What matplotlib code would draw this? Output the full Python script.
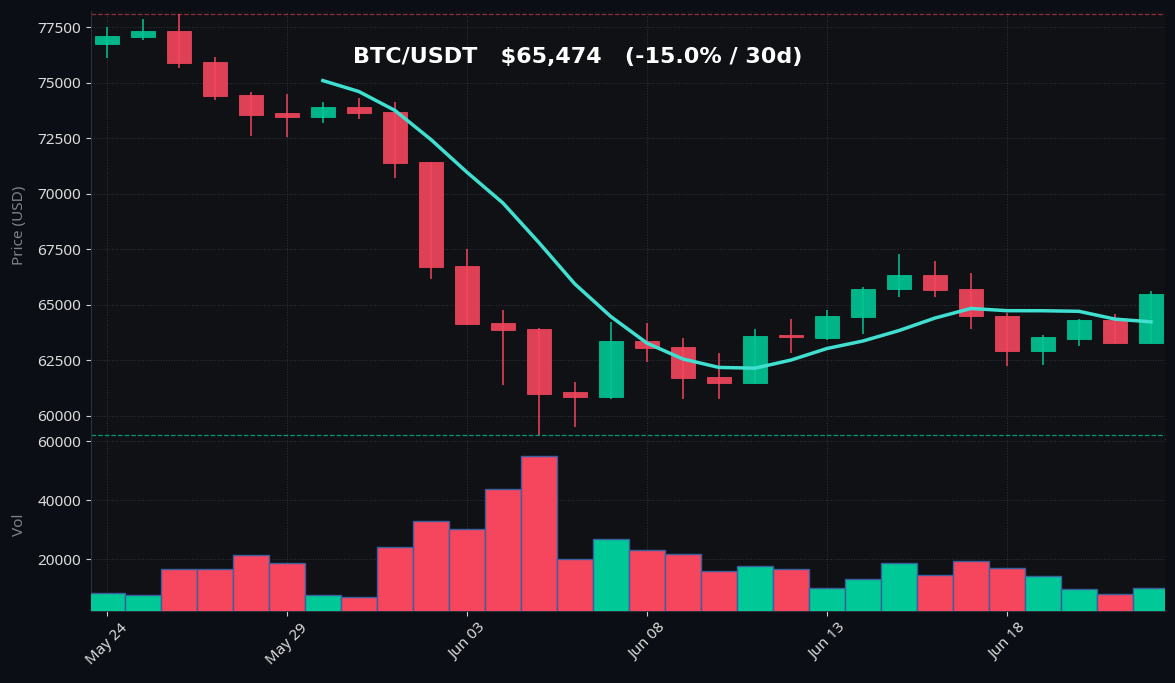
import matplotlib
matplotlib.use("Agg")
import matplotlib.pyplot as plt
import numpy as np
import pandas as pd

plt.rcParams['font.family'] = ['Noto Sans', 'DejaVu Sans']

# ---- data ----
dates = pd.date_range("2024-05-24", periods=30, freq="D")
opens = [76750, 77060, 77330, 75930, 74470, 73640, 73470, 73920, 73690, 71430,
         66770, 64180, 63900, 61070, 60850, 63370, 63100, 61740, 61470, 63640,
         63530, 64450, 65710, 66340, 65710, 64520, 62920, 63480, 64310, 63280]
highs = [77520, 77880, 78080, 76160, 74580, 74520, 74160, 74310, 74120, 71450,
         67520, 64760, 63950, 61520, 64220, 64180, 63520, 62840, 63920, 64370,
         64780, 65810, 67300, 66990, 66440, 64650, 63640, 64370, 64600, 65630]
lows = [76100, 76910, 75680, 74250, 72590, 72540, 73210, 73390, 70700, 66180,
        64100, 61410, 59140, 59520, 60750, 62420, 60780, 60780, 61450, 62850,
        63440, 63670, 65375, 65375, 63935, 62270, 62310, 63170, 63270, 63270]
closes = [77100, 77330, 75890, 74430, 73570, 73480, 73920, 73650, 71380, 66720,
          64130, 63860, 61000, 60850, 63370, 63050, 61700, 61470, 63620, 63560,
          64490, 65735, 66340, 65650, 64490, 62920, 63545, 64310, 63280, 65474]
volumes = [8370, 7690, 16710, 16710, 21250, 18540, 7690, 7010, 23960, 32780,
           30070, 43630, 54820, 19900, 26680, 22950, 21590, 16040, 17520, 16500,
           10070, 13120, 18540, 14470, 19220, 16850, 14130, 9730, 8030, 10070]
tick_idx = [0, 5, 10, 15, 20, 25]
title = "BTC/USDT   $65,474   (-15.0% / 30d)"

# ---- style ----
FIG_BG = "#0b0e14"
AX_BG = "#0f1115"
UP = "#00c896"
DOWN = "#f6465d"
GRID = "#3a3f4b"
TXT = "#dcdcdc"
LBL = "#7d828c"

df = pd.DataFrame({"open": opens, "high": highs, "low": lows,
                   "close": closes, "vol": volumes}, index=dates)
ma = df["close"].rolling(7).mean()
x = np.arange(len(df))
up = df["close"] >= df["open"]
cols = np.where(up, UP, DOWN)

fig = plt.figure(figsize=(11.75, 6.83), dpi=100, facecolor=FIG_BG)
L, R = 91 / 1175, 1165 / 1175
H = 683
ax = fig.add_axes([L, (H - 439) / H, R - L, (439 - 11) / H])
axv = fig.add_axes([L, (H - 611) / H, R - L, (611 - 439) / H], sharex=ax)

for a in (ax, axv):
    a.set_facecolor(AX_BG)
    for s in ("top", "right"):
        a.spines[s].set_visible(False)
    a.spines["left"].set_color("#2c303a")
    a.spines["bottom"].set_color("#2c303a")
    a.grid(True, color=GRID, linestyle=":", linewidth=0.7, alpha=0.75)
    a.set_axisbelow(True)
    a.tick_params(colors=TXT, labelsize=11, length=3.5, width=0.8)
    a.tick_params(axis="both", which="both", color="#cfcfcf")

# wicks
ax.vlines(x, df["low"], df["high"], colors=cols, linewidth=1.2, alpha=0.9, zorder=2)
# bodies
body_h = (df["close"] - df["open"]).abs()
body_b = np.minimum(df["close"], df["open"])
ax.bar(x, body_h, bottom=body_b, width=0.68, color=cols, edgecolor=cols,
       linewidth=0.6, alpha=0.9, zorder=3)
# moving average
ax.plot(x, ma.values, color="#40e0d0", linewidth=2.5, zorder=4)
# extreme lines
ax.axhline(df["high"].max(), color=DOWN, linestyle="--", linewidth=0.9, alpha=0.55, zorder=1.5)
ax.axhline(df["low"].min(), color=UP, linestyle="--", linewidth=0.9, alpha=0.75, zorder=1.5)

ax.set_ylim(df["low"].min() * 0.997, df["high"].max() * 1.002)
ax.set_yticks(np.arange(60000, 77501, 2500))
ax.set_ylabel("Price (USD)", color=LBL, fontsize=11)
ax.yaxis.set_label_coords(-0.06, 0.5)
ax.tick_params(axis="x", labelbottom=False, length=0)

# volume
axv.bar(x, df["vol"], width=1.0, color=cols, edgecolor="#3b5f9e", linewidth=1.0, zorder=3)
axv.set_ylim(2400, 60700)
axv.set_yticks([20000, 40000, 60000])
axv.set_ylabel("Vol", color=LBL, fontsize=11)
axv.yaxis.set_label_coords(-0.06, 0.5)
axv.set_xlim(-0.44, 29.39)
axv.set_xticks(tick_idx)
axv.set_xticklabels([dates[i].strftime("%b %d") for i in tick_idx], rotation=45)

fig.text(578 / 1175, 1 - 57 / H, title, ha="center", va="center",
         fontsize=16, fontweight="bold", color="white", family="DejaVu Sans")

fig.savefig("out.png", dpi=100, facecolor=FIG_BG)
